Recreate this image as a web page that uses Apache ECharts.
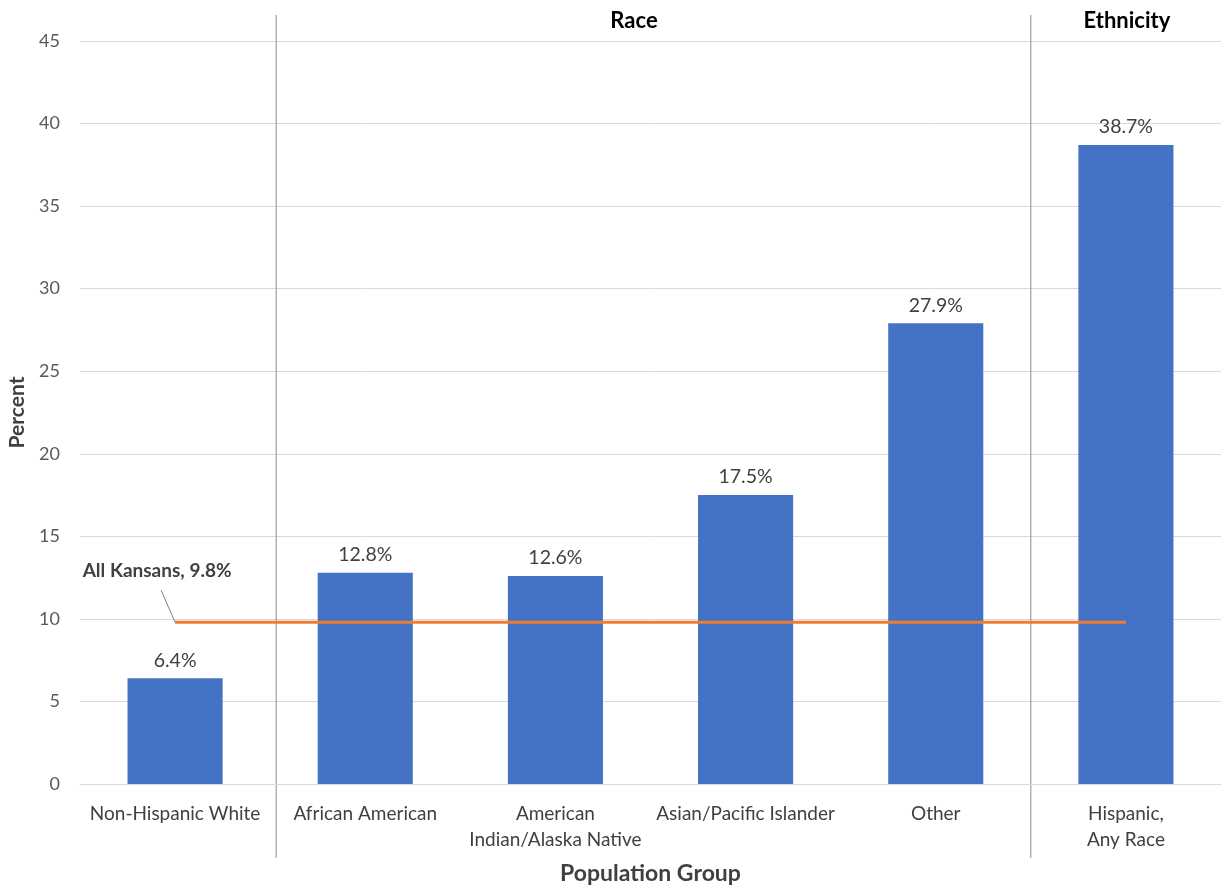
<!DOCTYPE html>
<html><head><meta charset="utf-8">
<script src="https://cdn.jsdelivr.net/npm/echarts@6/dist/echarts.min.js"></script>
<style>html,body{margin:0;padding:0;background:#fff}#c{width:1224px;height:886px}</style>
</head><body><div id="c"></div>
<script>
const categories = ['Non-Hispanic White', 'African American', 'American\nIndian/Alaska Native', 'Asian/Pacific Islander', 'Other', 'Hispanic,\nAny Race'];
const percents = [6.4, 12.8, 12.6, 17.5, 27.9, 38.7];
const allKansans = 9.8;
const allKansansLabel = 'All Kansans, 9.8%';
const yTicks = { min: 0, max: 45, interval: 5 };
const groupHeaders = ['Race', 'Ethnicity'];

const FONT = 'Lato';
const chart = echarts.init(document.getElementById('c'), null, { renderer: 'canvas' });

chart.setOption({
  animation: false,
  textStyle: { fontFamily: FONT },
  grid: { left: 80, right: 3, top: 41, bottom: 102, containLabel: false, outerBoundsMode: 'none' },
  xAxis: {
    type: 'category', data: categories,
    axisTick: { show: false },
    axisLine: { lineStyle: { color: '#d9d9d9', width: 1 } },
    axisLabel: { fontFamily: FONT, fontSize: 19, color: '#404040', margin: 17, lineHeight: 26, interval: 0 },
    name: 'Population Group', nameLocation: 'middle', nameGap: 78,
    nameTextStyle: { fontFamily: FONT, fontSize: 23, fontWeight: 'bold', color: '#404040' }
  },
  yAxis: {
    type: 'value', min: yTicks.min, max: yTicks.max, interval: yTicks.interval,
    axisLabel: { fontFamily: FONT, fontSize: 18, color: '#595959', margin: 20 },
    splitLine: { lineStyle: { color: '#d9d9d9', width: 1 } },
    axisLine: { show: false }, axisTick: { show: false },
    name: 'Percent', nameLocation: 'middle', nameGap: 50, nameRotate: 90,
    nameTextStyle: { fontFamily: FONT, fontSize: 21, fontWeight: 'bold', color: '#404040' }
  },
  series: [
    {
      type: 'bar', data: percents, barWidth: '50%',
      itemStyle: { color: '#4472C4' },
      label: { show: true, position: 'top', formatter: '{c}%', fontFamily: FONT, fontSize: 19.5, color: '#404040', distance: 8 }
    },
    {
      type: 'line', data: categories.map(() => allKansans), showSymbol: false, symbol: 'none',
      lineStyle: { color: '#ED7D31', width: 3 }, z: 5
    }
  ]
});

function draw() {
  const x0 = chart.convertToPixel({ xAxisIndex: 0 }, 0);
  const x1 = chart.convertToPixel({ xAxisIndex: 0 }, 1);
  const x4 = chart.convertToPixel({ xAxisIndex: 0 }, 4);
  const x5 = chart.convertToPixel({ xAxisIndex: 0 }, 5);
  const py = chart.convertToPixel({ yAxisIndex: 0 }, allKansans);
  const sepA = (x0 + x1) / 2 + 6;
  const sepB = (x4 + x5) / 2;
  chart.setOption({
    graphic: [
      { type: 'line', shape: { x1: sepA, y1: 15, x2: sepA, y2: 858 }, style: { stroke: '#8c8c8c', lineWidth: 1 }, silent: true },
      { type: 'line', shape: { x1: sepB, y1: 15, x2: sepB, y2: 858 }, style: { stroke: '#8c8c8c', lineWidth: 1 }, silent: true },
      { type: 'line', shape: { x1: x0 - 14, y1: py - 32, x2: x0, y2: py }, style: { stroke: '#7f7f7f', lineWidth: 1 }, silent: true },
      { type: 'text', x: x0 - 18, y: py - 51, style: { text: allKansansLabel, font: 'bold 19px Lato', fill: '#404040', align: 'center', verticalAlign: 'middle' } },
      { type: 'text', x: 634, y: 21, style: { text: groupHeaders[0], font: 'bold 22px Lato', fill: '#000', align: 'center', verticalAlign: 'middle' } },
      { type: 'text', x: x5 + 1, y: 21, style: { text: groupHeaders[1], font: 'bold 22px Lato', fill: '#000', align: 'center', verticalAlign: 'middle' } }
    ]
  });
}
draw();
</script></body></html>
